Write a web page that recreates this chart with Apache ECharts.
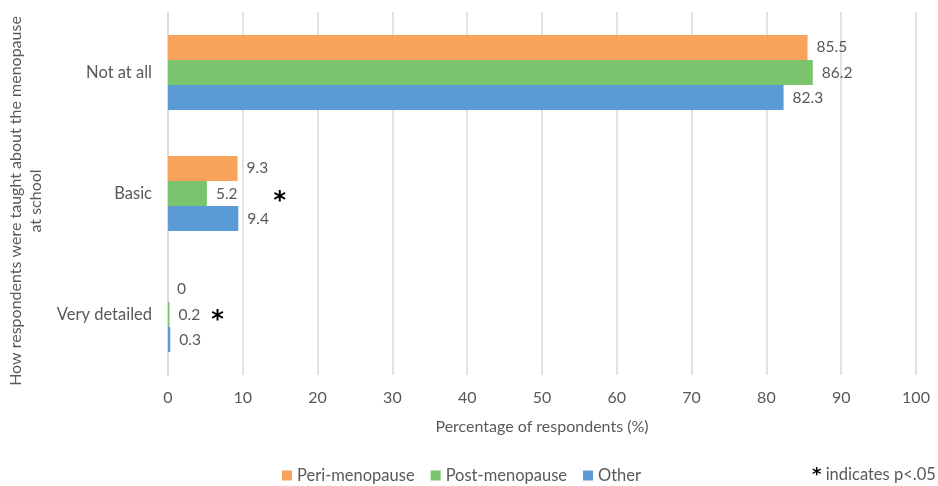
<!DOCTYPE html>
<html><head><meta charset="utf-8">
<script src="https://cdn.jsdelivr.net/npm/echarts@6/dist/echarts.min.js"></script>
<style>html,body{margin:0;padding:0;background:#fff}#c{width:938px;height:486px}</style>
</head><body><div id="c"></div>
<script>
const categories = ['Not at all', 'Basic', 'Very detailed'];
const seriesNames = ['Peri-menopause', 'Post-menopause', 'Other'];
const periValues = [85.5, 9.3, 0];
const postValues = [86.2, 5.2, 0.2];
const otherValues = [82.3, 9.4, 0.3];
const significant = [false, true, true]; // marked with * on the Post-menopause label
const xTicks = [0, 10, 20, 30, 40, 50, 60, 70, 80, 90, 100];

const FONT = 'Lato';
const TXT = '#595959';
const colors = ['#F7A35C', '#79C46D', '#5B9BD5'];
const starPad = [0, 36, 11];

function mkSeries(name, vals, idx) {
  return {
    name: name, type: 'bar', data: vals, barGap: '0%', barCategoryGap: '38%',
    itemStyle: { color: colors[idx] },
    label: {
      show: true, position: 'right', distance: 9,
      fontFamily: FONT, fontSize: 15.5, color: TXT,
      formatter: function (p) {
        if (idx === 1 && significant[p.dataIndex]) {
          return p.value + '{s|*}';
        }
        return '' + p.value;
      },
      rich: {}
    }
  };
}

const series = [mkSeries(seriesNames[0], periValues, 0), mkSeries(seriesNames[1], postValues, 1), mkSeries(seriesNames[2], otherValues, 2)];
series[1].data = postValues.map(function (v, i) {
  return {
    value: v,
    label: { rich: { s: { fontFamily: 'DejaVu Sans', fontSize: 24, fontWeight: 'bold', color: '#000', padding: [i === 1 ? 16 : 12, 0, 0, starPad[i]] } } }
  };
});

const chart = echarts.init(document.getElementById('c'), null, { renderer: 'canvas' });
chart.setOption({
  animation: false,
  textStyle: { fontFamily: FONT },
  grid: { left: 168, right: 22, top: 12, height: 363, containLabel: false, outerBoundsMode: 'none' },
  xAxis: {
    type: 'value', min: 0, max: 100, interval: 10,
    axisLine: { show: false }, axisTick: { show: false },
    splitLine: { lineStyle: { color: '#D9D9D9', width: 1.5 } },
    axisLabel: { fontFamily: FONT, fontSize: 16, color: TXT, margin: 15,
      formatter: function (v) { return xTicks.indexOf(v) >= 0 ? String(v) : ''; } },
    name: 'Percentage of respondents (%)', nameLocation: 'middle', nameGap: 44,
    nameTextStyle: { fontFamily: FONT, fontSize: 16, color: TXT }
  },
  yAxis: {
    type: 'category', data: categories, inverse: true,
    axisLine: { show: true, lineStyle: { color: '#D9D9D9', width: 1.5 } },
    axisTick: { show: false },
    axisLabel: { fontFamily: FONT, fontSize: 16.5, color: TXT, margin: 16 },
    name: 'How respondents were taught about the menopause\nat school',
    nameLocation: 'middle', nameGap: 119, nameRotate: 90,
    nameTextStyle: { fontFamily: FONT, fontSize: 16, color: TXT, lineHeight: 20, align: 'center', padding: [0, 15, 0, 0] }
  },
  legend: {
    top: 462, left: 277, itemWidth: 10, itemHeight: 10, itemGap: 16, icon: 'rect',
    textStyle: { fontFamily: FONT, fontSize: 16.5, color: TXT },
    data: seriesNames
  },
  graphic: [{
    type: 'text', left: 812, top: 466,
    style: { text: '{s|*} indicates p<.05', rich: { s: { fontSize: 18, fontWeight: 'bold', fill: '#000', fontFamily: 'DejaVu Sans' } }, fontFamily: FONT, fontSize: 16.5, fill: TXT }
  }],
  series: series
});
</script></body></html>
